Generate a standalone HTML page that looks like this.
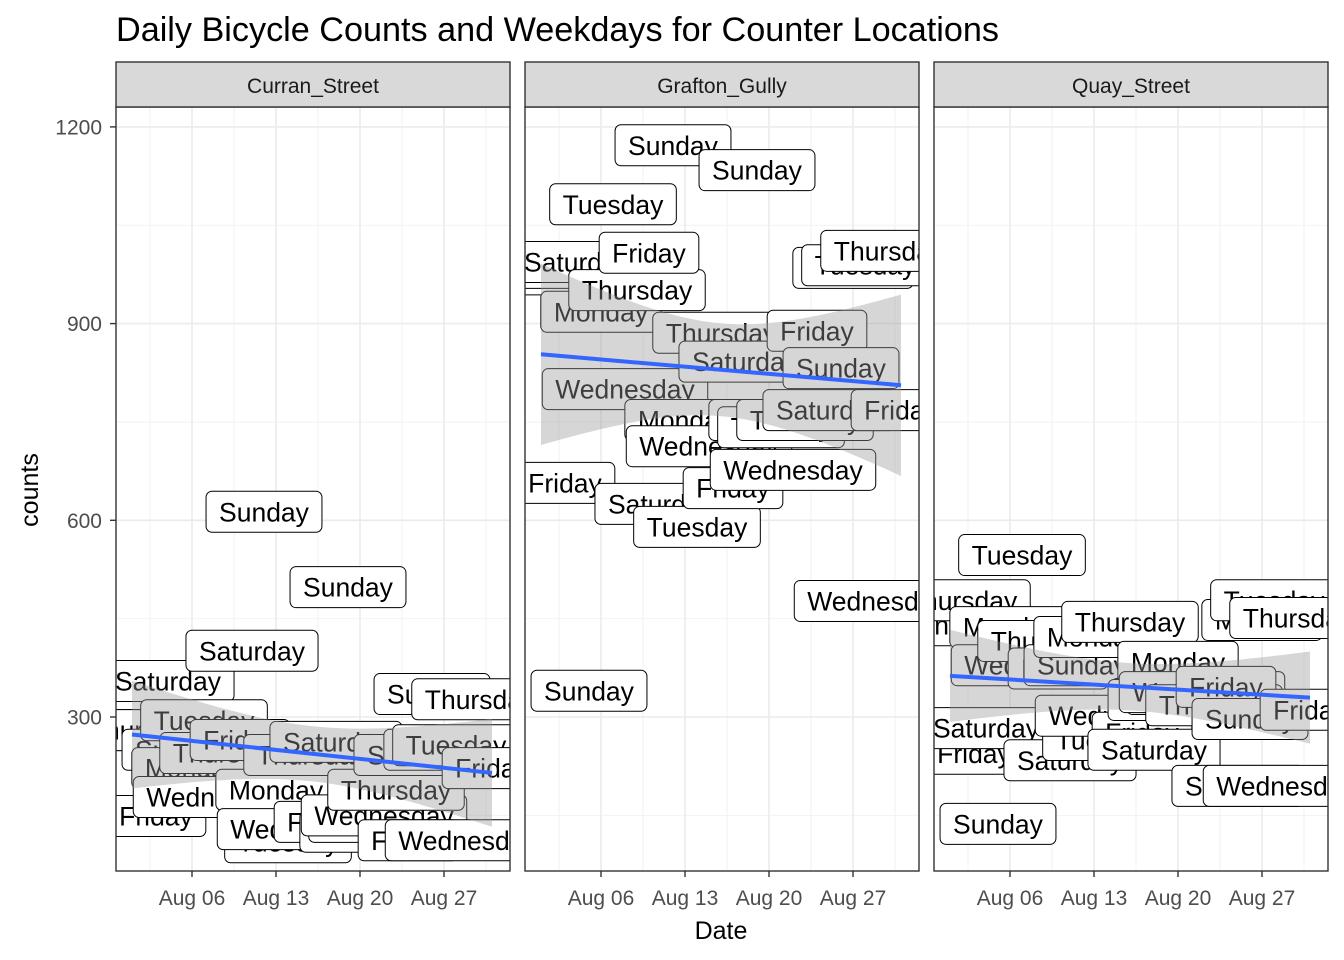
<!DOCTYPE html>
<html><head><meta charset="utf-8">
<style>
html,body{margin:0;padding:0;background:#fff;}
svg{display:block;font-family:"Liberation Sans",Arial,sans-serif;}
</style></head>
<body>
<svg id="chart" width="1344" height="960" viewBox="0 0 1344 960">
<text x="116" y="41" font-size="34.2" fill="#000">Daily Bicycle Counts and Weekdays for Counter Locations</text>
<text x="721" y="939" font-size="25" text-anchor="middle" fill="#000">Date</text>
<text transform="translate(38,490) rotate(-90)" font-size="25" text-anchor="middle" fill="#000">counts</text>
<g id="panels"></g>
</svg>
<script>
const panelNames = ["Curran_Street", "Grafton_Gully", "Quay_Street"];
const dayNumbers = [1,2,3,4,5,6,7,8,9,10,11,12,13,14,15,16,17,18,19,20,21,22,23,24,25,26,27,28,29,30,31];
const weekdayNames = ["Wednesday","Thursday","Friday","Saturday","Sunday","Monday","Tuesday"];
const curranCounts = [280,280,149,355,250,222,295,178,245,265,401,613,189,109,129,242,140,262,498,125,140,150,189,112,242,335,250,257,112,327,222];
const graftonCounts = [975,985,657,994,340,918,1082,800,951,1008,625,1172,753,590,713,886,649,842,1134,753,742,677,753,889,768,832,985,989,477,1011,768];
const quayCounts = [440,478,244,283,137,437,547,379,416,374,234,379,422,265,302,445,276,250,326,384,335,338,318,346,195,297,448,478,195,451,311];
const yTicks = [300, 600, 900, 1200];
const yTickLabels = ["300", "600", "900", "1200"];
const yMinor = [150, 450, 750, 1050];
const xTicks = [6, 13, 20, 27];
const xTickLabels = ["Aug 06", "Aug 13", "Aug 20", "Aug 27"];
const xMinor = [2.5, 9.5, 16.5, 23.5, 30.5];

const NS = "http://www.w3.org/2000/svg";
const panelLefts = [116, 525, 934];
const panelW = 394;
const plotTop = 107, plotBot = 871;
function yScale(v){ return 717 - (v - 300) * (196.7/300); }
function xScale(p, d){ return panelLefts[p] + 76 + (d - 6) * 12; }
function mk(tag, attrs, parent){
  const e = document.createElementNS(NS, tag);
  for (const k in attrs) e.setAttribute(k, attrs[k]);
  parent.appendChild(e);
  return e;
}
const root = document.getElementById("panels");
const svg = document.getElementById("chart");
const defs = mk("defs", {}, svg);
const allCounts = [curranCounts, graftonCounts, quayCounts];

for (let p = 0; p < 3; p++) {
  const L = panelLefts[p];
  const g = mk("g", {}, root);
  
  
  const cp = mk("clipPath", {id: "clip" + p}, defs);
  mk("rect", {x: L, y: plotTop, width: panelW, height: plotBot - plotTop}, cp);
  mk("rect", {x: L, y: plotTop, width: panelW, height: plotBot - plotTop, fill: "#fff"}, g);
  yMinor.forEach(v => { const y = yScale(v); if (y > plotTop && y < plotBot) mk("line", {x1: L, x2: L + panelW, y1: y, y2: y, stroke: "#F2F2F2", "stroke-width": 1}, g); });
  xMinor.forEach(d => { const x = xScale(p, d); mk("line", {x1: x, x2: x, y1: plotTop, y2: plotBot, stroke: "#F2F2F2", "stroke-width": 1}, g); });
  yTicks.forEach(v => { const y = yScale(v); mk("line", {x1: L, x2: L + panelW, y1: y, y2: y, stroke: "#EBEBEB", "stroke-width": 1.6}, g); });
  xTicks.forEach(d => { const x = xScale(p, d); mk("line", {x1: x, x2: x, y1: plotTop, y2: plotBot, stroke: "#EBEBEB", "stroke-width": 1.6}, g); });
  const lg = mk("g", {"clip-path": "url(#clip" + p + ")"}, g);
  const counts = allCounts[p];
  dayNumbers.forEach((d, i) => {
    const cx = xScale(p, d), cy = yScale(counts[i]);
    const lab = mk("g", {}, lg);
    
    
    const rect = mk("rect", {rx: 6, ry: 6, fill: "#fff", stroke: "#000", "stroke-width": 1}, lab);
    const t = mk("text", {x: cx, y: cy + 9.5, "font-size": 26.5, "text-anchor": "middle", fill: "#000"}, lab);
    t.textContent = weekdayNames[(d - 1) % 7];
    let w = t.getComputedTextLength ? t.getComputedTextLength() : 100;
    rect.setAttribute("x", cx - w / 2 - 13);
    rect.setAttribute("y", cy - 20.5);
    rect.setAttribute("width", w + 26);
    rect.setAttribute("height", 41);
  });
  const n = counts.length;
  const xm = dayNumbers.reduce((a, b) => a + b, 0) / n;
  const ym = counts.reduce((a, b) => a + b, 0) / n;
  let sxx = 0, sxy = 0;
  dayNumbers.forEach((d, i) => { sxx += (d - xm) ** 2; sxy += (d - xm) * (counts[i] - ym); });
  const b = sxy / sxx, a = ym - b * xm;
  let sse = 0;
  dayNumbers.forEach((d, i) => { sse += (counts[i] - a - b * d) ** 2; });
  const s = Math.sqrt(sse / (n - 2)), tq = 2.045;
  const d0 = dayNumbers[0], d1 = dayNumbers[n - 1];
  let up = [], lo = [];
  for (let k = 0; k <= 60; k++) {
    const d = d0 + (d1 - d0) * k / 60;
    const f = a + b * d;
    const se = s * Math.sqrt(1 / n + (d - xm) ** 2 / sxx);
    up.push(xScale(p, d).toFixed(1) + "," + yScale(f + tq * se).toFixed(1));
    lo.unshift(xScale(p, d).toFixed(1) + "," + yScale(f - tq * se).toFixed(1));
  }
  const rib = mk("polygon", {points: up.concat(lo).join(" "), fill: "rgba(153,153,153,0.4)", "clip-path": "url(#clip" + p + ")"}, g);
  
  
  const ln = mk("line", {x1: xScale(p, d0), y1: yScale(a + b * d0), x2: xScale(p, d1), y2: yScale(a + b * d1), stroke: "#3366FF", "stroke-width": 4}, g);
  
  
  mk("rect", {x: L, y: plotTop, width: panelW, height: plotBot - plotTop, fill: "none", stroke: "#333", "stroke-width": 1.4}, g);
  const st = mk("g", {}, g);
  
  
  mk("rect", {x: L, y: 62, width: panelW, height: 45, fill: "#D9D9D9", stroke: "#333", "stroke-width": 1.4}, st);
  const stt = mk("text", {x: L + panelW / 2, y: 93, "font-size": 21, "text-anchor": "middle", fill: "#1A1A1A"}, st);
  stt.textContent = panelNames[p];
  xTicks.forEach((d, i) => {
    const x = xScale(p, d);
    mk("line", {x1: x, x2: x, y1: plotBot, y2: plotBot + 6, stroke: "#333", "stroke-width": 1.4}, g);
    const tx = mk("text", {x: x, y: 905, "font-size": 21, "text-anchor": "middle", fill: "#4D4D4D"}, g);
    
    
    tx.textContent = xTickLabels[i];
  });
}
yTicks.forEach((v, i) => {
  const y = yScale(v);
  mk("line", {x1: 110, x2: 116, y1: y, y2: y, stroke: "#333", "stroke-width": 1.4}, root);
  const t = mk("text", {x: 102, y: y + 7.5, "font-size": 21, "text-anchor": "end", fill: "#4D4D4D"}, root);
  
  
  t.textContent = yTickLabels[i];
});
</script>
</body></html>
